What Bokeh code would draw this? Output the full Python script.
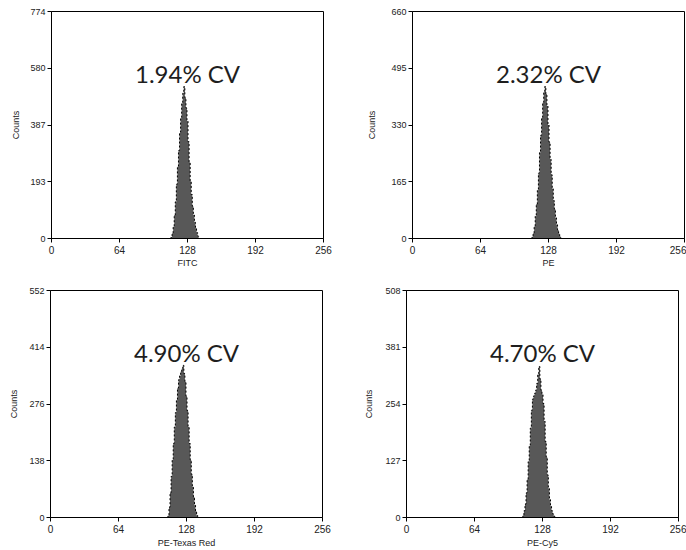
from bokeh.plotting import figure
from bokeh.layouts import column, row
from bokeh.models import Range1d, FixedTicker
from bokeh.embed import file_html
from bokeh.resources import INLINE
from bokeh.core.properties import value

# ---------------- data ----------------
x_ticks = [0, 64, 128, 192, 256]

fitc_start = 113
fitc_counts = [5, 18, 40, 80, 125, 185, 245, 300, 360, 410, 460, 495, 518,
               480, 445, 400, 330, 260, 195, 150, 110, 80, 55, 35, 20, 8]

pe_start = 113
pe_counts = [5, 15, 35, 65, 100, 140, 190, 250, 300, 350, 395, 425, 442,
             420, 385, 330, 280, 230, 185, 145, 110, 85, 60, 40, 25, 14, 6]

ptr_start = 111
ptr_counts = [5, 25, 60, 100, 140, 180, 220, 255, 285, 315, 335, 345, 355,
              362, 370, 350, 330, 295, 260, 220, 180, 140, 105, 75, 50, 30, 15, 5]

pecy5_start = 110
pecy5_counts = [5, 15, 30, 55, 85, 125, 160, 200, 240, 265, 272, 278, 285,
                300, 320, 338, 310, 285, 275, 255, 215, 170, 135, 95, 65, 40,
                25, 15, 8, 3]

cv_labels = ["1.94% CV", "2.32% CV", "4.90% CV", "4.70% CV"]
x_labels = ["FITC", "PE", "PE-Texas Red", "PE-Cy5"]
y_label = "Counts"
y_tick_labels = [["0", "193", "387", "580", "774"],
                 ["0", "165", "330", "495", "660"],
                 ["0", "138", "276", "414", "552"],
                 ["0", "127", "254", "381", "508"]]
y_max = [774, 660, 552, 508]

FRAME_W = 272
FRAME_H = 229


def make_panel(counts, start, ymax, ytl, xlabel, cv, left, right,
               top, bottom, ylab_standoff, xlab_standoff):
    p = figure(width=left + FRAME_W + right, height=top + FRAME_H + bottom,
               x_range=Range1d(0, 256), y_range=Range1d(0, ymax),
               output_backend="svg", toolbar_location=None,
               min_border_left=left, min_border_right=right,
               min_border_top=top, min_border_bottom=bottom)
    p.grid.visible = False
    p.outline_line_color = "black"
    p.outline_line_alpha = 1.0
    p.outline_line_width = 1
    p.background_fill_color = "white"
    p.border_fill_color = "white"

    channels = list(range(start, start + len(counts)))
    xs = [start - 1] + channels + [start + len(counts)]
    ys = [0] + list(counts) + [0]
    p.varea_step(x=xs, y1=[0] * len(xs), y2=ys, step_mode="center",
                 fill_color="#585858")
    p.step(xs, ys, mode="center", line_color="black", line_dash="2 2",
           line_width=1)

    p.text(x=[128], y=[ymax * 0.728], text=[cv], text_font=value("Lato"),
           text_font_size="24px", text_align="center",
           text_baseline="alphabetic", text_color="#1e1e1e")

    p.xaxis.ticker = FixedTicker(ticks=x_ticks)
    p.yaxis.ticker = FixedTicker(ticks=[int(s) for s in ytl])
    p.xaxis.axis_label = xlabel
    p.yaxis.axis_label = y_label
    for ax in (p.xaxis, p.yaxis):
        ax.major_tick_out = 4
        ax.major_tick_in = 0
        ax.minor_tick_line_color = None
        ax.axis_line_color = "black"
        ax.major_tick_line_color = "black"
        ax.major_label_text_font = "Liberation Sans"
        ax.major_label_text_color = "#222222"
        ax.axis_label_text_font = "Liberation Sans"
        ax.axis_label_text_font_style = "normal"
        ax.axis_label_text_font_size = "9px"
        ax.axis_label_text_color = "#222222"
    p.xaxis.major_label_standoff = 3
    p.yaxis.major_label_standoff = 2
    p.xaxis.major_label_text_font_size = "10px"
    p.yaxis.major_label_text_font_size = "9px"
    p.yaxis.axis_label_standoff = ylab_standoff
    p.xaxis.axis_label_standoff = xlab_standoff
    return p


p1 = make_panel(fitc_counts, fitc_start, y_max[0], y_tick_labels[0],
                x_labels[0], cv_labels[0], 51, 20, 11, 30, 6, 1)
p2 = make_panel(pe_counts, pe_start, y_max[1], y_tick_labels[1],
                x_labels[1], cv_labels[1], 69, 2, 11, 30, 11, 1)
p3 = make_panel(ptr_counts, ptr_start, y_max[2], y_tick_labels[2],
                x_labels[2], cv_labels[2], 50, 21, 18, 33, 7, 2)
p4 = make_panel(pecy5_counts, pecy5_start, y_max[3], y_tick_labels[3],
                x_labels[3], cv_labels[3], 63, 8, 20, 31, 8, 2)

layout = column(row(p1, p2), row(p3, p4))

open("out.html", "w").write(file_html(layout, INLINE))
